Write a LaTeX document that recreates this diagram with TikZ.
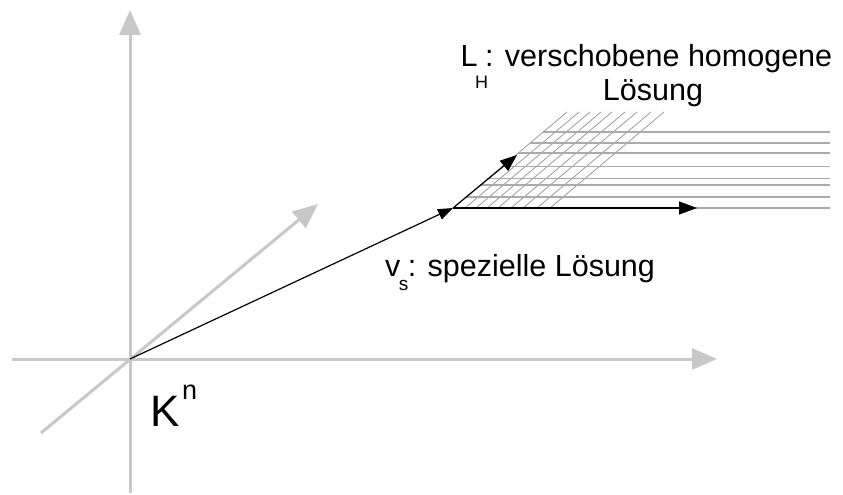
\documentclass[tikz,border=0pt]{standalone}
\usepackage{fontspec}
\setmainfont{Liberation Sans}
\usetikzlibrary{arrows.meta}
\definecolor{axisgray}{RGB}{200,200,200}
\definecolor{hatchh}{RGB}{170,170,170}
\definecolor{hatchd}{RGB}{155,155,155}
\begin{document}
\begin{tikzpicture}[x=1pt,y=-1pt,
  axis/.style={draw=axisgray,line width=3pt,-{Triangle[length=25pt,width=21pt]}},
  vec/.style={draw=black,line width=1.2pt,-{Triangle[length=17pt,width=13pt]}},
  hh/.style={draw=hatchh,line width=1.2pt},
  hd/.style={draw=hatchd,line width=0.8pt},
  lbl/.style={inner sep=0pt,font=\fontsize{30.5}{33}\selectfont}]
\useasboundingbox (0,0) rectangle (843,495);
% named points
\coordinate (O) at (130,359);
\coordinate (P) at (453,208);
\coordinate (xl) at (12,359);
\coordinate (xr) at (717,359);
\coordinate (yb) at (130,493);
\coordinate (yt) at (130,10);
\coordinate (zl) at (41,433);
\coordinate (zr) at (318,204);
\coordinate (D) at (517,155);
\coordinate (H) at (697,208);
% grey axes
\draw[axis] (xl) -- (xr);
\draw[axis] (yb) -- (yt);
\draw[axis] (zl) -- (zr);
% hatching: diagonal lines
\foreach \xb in {453,465,476,487,498,511,523,537,550}
  \draw[hd] (\xb,208) -- ({\xb+114},112);
% hatching: horizontal lines
\foreach \yy in {132,143,153,166.5,178.5,185,197,208}
  \draw[hh] ({453+(208-\yy)*1.1875},\yy) -- (830,\yy);
% black vectors
\draw[vec,-{Triangle[length=15pt,width=11pt]}] (O) -- (P);
\draw[vec] (P) -- (D);
\draw[vec,-{Triangle[length=18pt,width=13pt]}] (P) -- (H);
% labels
\node[lbl,anchor=base west] (lh) at (460.5,66.7)
  {L\kern-2.5pt\raisebox{-21.6pt}{\fontsize{18}{18}\selectfont H}\kern-3pt: verschobene homogene};
\node[lbl,anchor=base] (lh2) at (653,100) {Lösung};
\node[lbl,anchor=base west] (vs) at (385,276.7)
  {v\kern-1.5pt\raisebox{-13.5pt}{\fontsize{19}{19}\selectfont s}\kern-0.5pt: spezielle Lösung};
\node[inner sep=0pt,anchor=base west,font=\fontsize{44}{44}\selectfont] (kn) at (150.5,426.7)
  {K\kern2pt\raisebox{27pt}{\fontsize{27}{27}\selectfont n}};
\end{tikzpicture}
\end{document}
